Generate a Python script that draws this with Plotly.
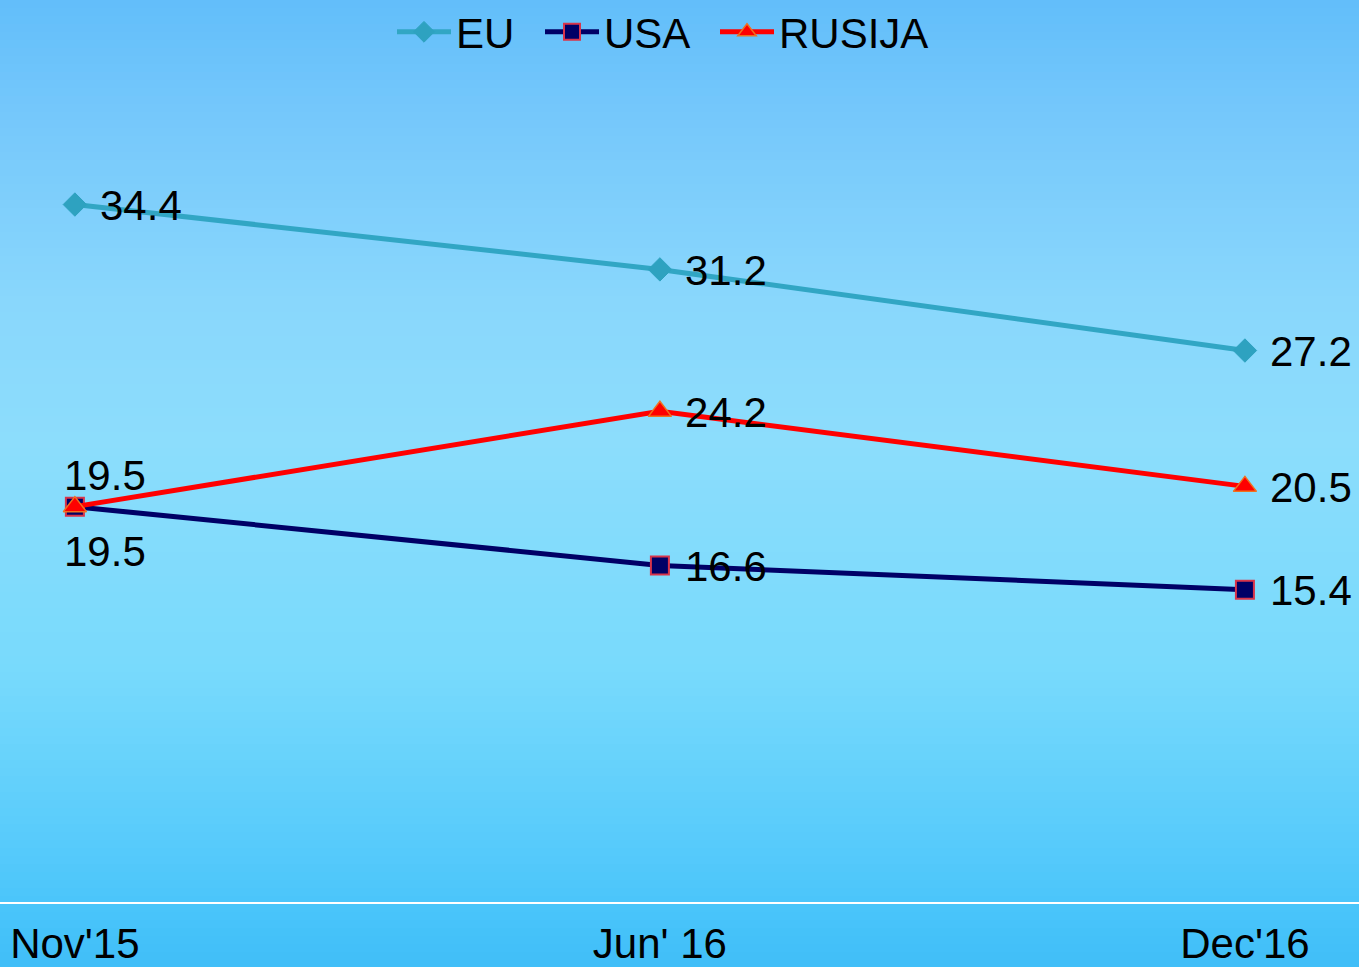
import plotly.graph_objects as go

categories = ["Nov'15", "Jun' 16", "Dec'16"]
eu = [34.4, 31.2, 27.2]
usa = [19.5, 16.6, 15.4]
rusija = [19.5, 24.2, 20.5]

FONT = "Liberation Sans, Arial, sans-serif"
FS = 42

# background gradient stops (pixel y from top, rgb)
grad_stops = [(0, (98, 190, 250)), (120, (118, 200, 251)), (300, (137, 215, 252)),
              (440, (140, 221, 252)), (670, (120, 218, 252)), (820, (92, 205, 251)),
              (915, (72, 196, 250)), (967, (64, 190, 248))]

W, H = 1359, 967
T, B = 91, 65
ph = H - T - B

def px_to_paper(y):
    return (H - B - y) / ph

def px_to_paper_x(x):
    return x / W

def color_at(y):
    for (y0, c0), (y1, c1) in zip(grad_stops[:-1], grad_stops[1:]):
        if y0 <= y <= y1:
            f = (y - y0) / (y1 - y0)
            return "rgb(%d,%d,%d)" % tuple(round(a + (b - a) * f) for a, b in zip(c0, c1))
    return "rgb(%d,%d,%d)" % grad_stops[-1][1]

shapes = []
step = 8
for y in range(0, H, step):
    shapes.append(dict(type="rect", xref="paper", yref="paper", x0=-0.01, x1=1.01,
                       y0=px_to_paper(y + step + 1), y1=px_to_paper(y),
                       fillcolor=color_at(y + step / 2), line=dict(width=0), layer="below"))

fig = go.Figure()
fig.add_trace(go.Scatter(x=categories, y=eu, name="EU", mode="lines+markers", legend="legend",
                         line=dict(color="#31a6c4", width=5),
                         marker=dict(symbol="diamond", size=18, color="#2ea2c0",
                                     line=dict(color="#2ea2c0", width=1))))
fig.add_trace(go.Scatter(x=categories, y=usa, name="USA", mode="lines+markers", legend="legend2",
                         line=dict(color="#000066", width=5),
                         marker=dict(symbol="square", size=18, color="#000066",
                                     line=dict(color="#d8344a", width=2))))
fig.add_trace(go.Scatter(x=categories, y=rusija, name="RUSIJA", mode="lines+markers", legend="legend3",
                         line=dict(color="#ff0000", width=5),
                         marker=dict(symbol="triangle-up", size=20, color="#ff0000",
                                     line=dict(color="#f0701e", width=1.5))))

annotations = []
lab_font = dict(family=FONT, size=FS, color="black")
for series, name in [(eu, "EU"), (usa, "USA"), (rusija, "RUSIJA")]:
    for i, (c, v) in enumerate(zip(categories, series)):
        if i == 0 and name in ("USA", "RUSIJA"):
            if name == "RUSIJA":
                annotations.append(dict(x=c, y=v, text=f"{v}", showarrow=False, font=lab_font,
                                        xanchor="center", yanchor="bottom", xshift=30, yshift=6))
            else:
                annotations.append(dict(x=c, y=v, text=f"{v}", showarrow=False, font=lab_font,
                                        xanchor="center", yanchor="top", xshift=30, yshift=-19))
        else:
            annotations.append(dict(x=c, y=v, text=f"{v}", showarrow=False, font=lab_font,
                                    xanchor="left", yanchor="middle", xshift=23, yshift=-1))

leg_common = dict(orientation="h", yanchor="middle", y=px_to_paper(32),
                  xanchor="left", font=dict(family=FONT, size=FS, color="black"),
                  bgcolor="rgba(0,0,0,0)", itemwidth=54, borderwidth=0)

fig.update_layout(
    width=W, height=H,
    margin=dict(l=0, r=0, t=T, b=B, autoexpand=False),
    paper_bgcolor="#5cc6fa",
    plot_bgcolor="rgba(0,0,0,0)",
    shapes=shapes,
    annotations=annotations,
    showlegend=True,
    legend=dict(leg_common, x=px_to_paper_x(392)),
    legend2=dict(leg_common, x=px_to_paper_x(540)),
    legend3=dict(leg_common, x=px_to_paper_x(715)),
    xaxis=dict(type="category", range=[-0.128, 2.195], showgrid=False, zeroline=False,
               showline=True, linecolor="white", linewidth=2, ticks="", automargin=False,
               tickfont=dict(family=FONT, size=FS, color="black"), ticklabelstandoff=4),
    yaxis=dict(range=[0, 40], showgrid=False, zeroline=False, showticklabels=False,
               showline=False, automargin=False),
)

fig.write_html("out.html", post_script="document.body.style.margin='0px';",
               config={"displayModeBar": False})
